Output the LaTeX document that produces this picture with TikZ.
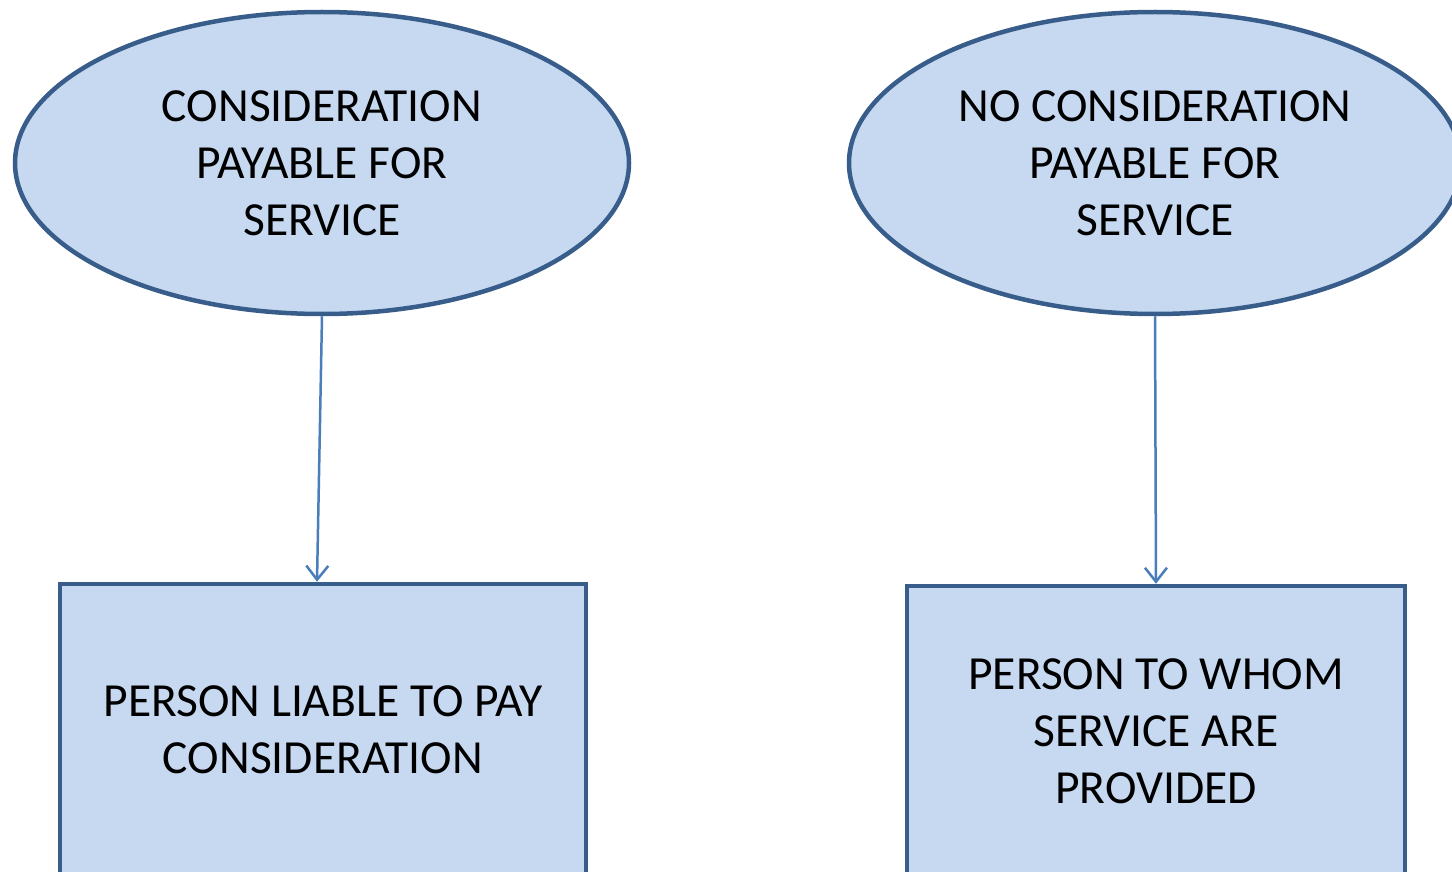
\documentclass[tikz,border=0pt]{standalone}
\usepackage{fontspec}
\setmainfont{Carlito}
\usetikzlibrary{shapes.geometric,arrows.meta}
\definecolor{shapefill}{HTML}{C6D9F1}
\definecolor{shapeline}{HTML}{385D8A}
\definecolor{linkline}{HTML}{4A7EBB}
\begin{document}
\begin{tikzpicture}[x=1pt,y=-1pt,
  txt/.style={font=\fontsize{47.5}{57}\selectfont, align=center, text=black},
  oval/.style={ellipse, draw=shapeline, fill=shapefill, line width=4.5pt, inner sep=0pt, txt},
  panel/.style={rectangle, draw=shapeline, fill=shapefill, line width=4.5pt, inner sep=0pt, txt},
  link/.style={draw=linkline, line width=2.5pt, -{Straight Barb[length=14pt,width=22pt,line width=2.5pt]}}]
\useasboundingbox (0,0) rectangle (1452,872);
\clip (0,0) rectangle (1452,872);
\fill[white] (0,0) rectangle (1452,872);
\node[oval, minimum width=614pt, minimum height=302pt] (e1) at (322,163)
  {CONSIDERATION\\PAYABLE FOR\\SERVICE};
\node[oval, minimum width=612pt, minimum height=302pt] (e2) at (1155,163)
  {NO CONSIDERATION\\PAYABLE FOR\\SERVICE};
\node[panel, minimum width=526pt, minimum height=292pt] (b1) at (323,730)
  {PERSON LIABLE TO PAY\\CONSIDERATION};
\node[panel, minimum width=498pt, minimum height=290pt] (b2) at (1156,731)
  {PERSON TO WHOM\\SERVICE ARE\\PROVIDED};
\draw[link] (e1.south) -- ([xshift=-6pt]b1.north);
\draw[link] (e2.south) -- (b2.north);
\end{tikzpicture}
\end{document}
